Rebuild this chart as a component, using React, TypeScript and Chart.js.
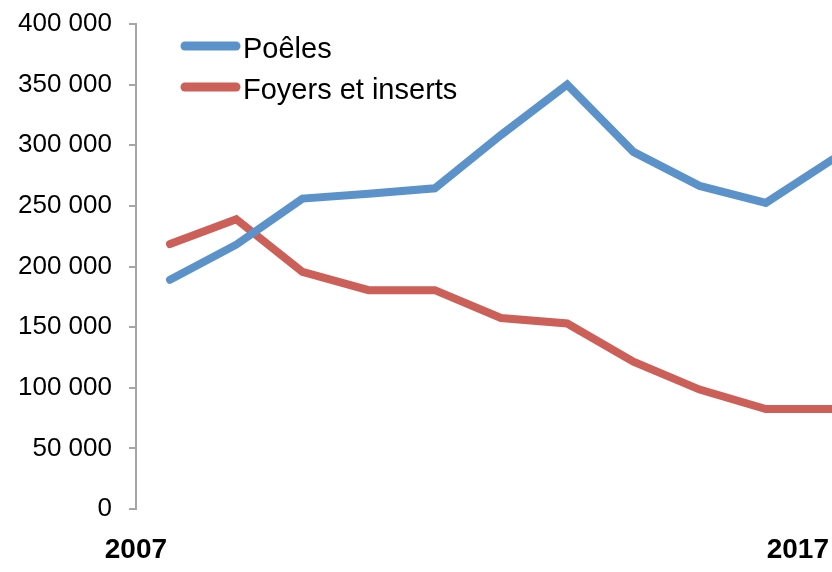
import React, { useEffect, useRef } from "react";
import { Chart, registerables } from "chart.js";

Chart.register(...registerables);

const YEARS = [2007, 2008, 2009, 2010, 2011, 2012, 2013, 2014, 2015, 2016, 2017];
const POELES = [189000, 218000, 256000, 260000, 264500, 308500, 350000, 294500, 266500, 252500, 288000];
const FOYERS = [218500, 239000, 195500, 180500, 180500, 157500, 153000, 121500, 98500, 82500, 82500];
const X_LABELS = [2007, 2017];
const SERIES_NAMES = ["Poêles", "Foyers et inserts"];
const COLORS = ["#5B92C9", "#CC5F58"];

const FONT = "'Liberation Sans', Arial, Helvetica, sans-serif";

const fmt = (v: number) => String(v).replace(/\B(?=(\d{3})+(?!\d))/g, " ");

const legendPlugin = {
  id: "innerLegend",
  afterDraw(chart: any) {
    const ctx = chart.ctx;
    const area = chart.chartArea;
    ctx.save();
    chart.data.datasets.forEach((ds: any, i: number) => {
      const cy = area.top + 22 + i * 41;
      const x0 = area.left + 49;
      const x1 = area.left + 100;
      ctx.strokeStyle = ds.borderColor;
      ctx.lineWidth = 9;
      ctx.lineCap = "round";
      ctx.beginPath();
      ctx.moveTo(x0, cy);
      ctx.lineTo(x1, cy);
      ctx.stroke();
      ctx.fillStyle = "#000";
      ctx.font = `29px ${FONT}`;
      ctx.textAlign = "left";
      ctx.textBaseline = "alphabetic";
      ctx.fillText(ds.label, area.left + 107, cy + 12);
    });
    ctx.restore();
  },
};

export default function App() {
  const ref = useRef<HTMLCanvasElement | null>(null);
  useEffect(() => {
    document.body.style.margin = "0";
    if (!ref.current) return;
    const chart = new Chart(ref.current, {
      type: "line",
      data: {
        datasets: [POELES, FOYERS].map((vals, i) => ({
          label: SERIES_NAMES[i],
          data: YEARS.map((y, j) => ({ x: y, y: vals[j] })),
          borderColor: COLORS[i],
          backgroundColor: COLORS[i],
          borderWidth: 8,
          borderCapStyle: "round" as const,
          borderJoinStyle: "miter" as const,
          pointRadius: 0,
          tension: 0,
        })),
      },
      options: {
        animation: false,
        responsive: false,
        layout: { padding: { top: 24, bottom: 0, left: 0, right: 0 } },
        plugins: { legend: { display: false }, tooltip: { enabled: false } },
        scales: {
          x: {
            type: "linear",
            min: 2006.486,
            max: 2017,
            grid: { display: false },
            border: { display: false },
            afterBuildTicks: (scale: any) => {
              scale.ticks = X_LABELS.map((v) => ({ value: v }));
            },
            afterFit: (scale: any) => {
              scale.height = 63;
              scale.paddingLeft = 0;
              scale.paddingRight = 0;
            },
            ticks: {
              align: "end",
              labelOffset: -3,
              padding: 16,
              maxRotation: 0,
              autoSkip: false,
              color: "#000",
              font: { family: FONT, size: 28, weight: "bold" },
              callback: (v: any) => String(v),
            },
          },
          y: {
            min: 0,
            max: 400000,
            afterFit: (scale: any) => {
              scale.width = 136;
              scale.paddingTop = 0;
              scale.paddingBottom = 0;
            },
            grid: {
              drawOnChartArea: false,
              drawTicks: true,
              tickLength: 7,
              color: "#A6A6A6",
              lineWidth: 2,
            },
            border: { display: true, color: "#A6A6A6", width: 2 },
            ticks: {
              stepSize: 50000,
              padding: 17,
              color: "#000",
              font: { family: FONT, size: 26 },
              callback: (v: any) => fmt(Number(v)),
            },
          },
        },
      },
      plugins: [legendPlugin],
    });
    return () => chart.destroy();
  }, []);
  return (
    <div style={{ width: 832, height: 572, overflow: "hidden" }}>
      <canvas ref={ref} width={832} height={572} style={{ display: "block" }} />
    </div>
  );
}
